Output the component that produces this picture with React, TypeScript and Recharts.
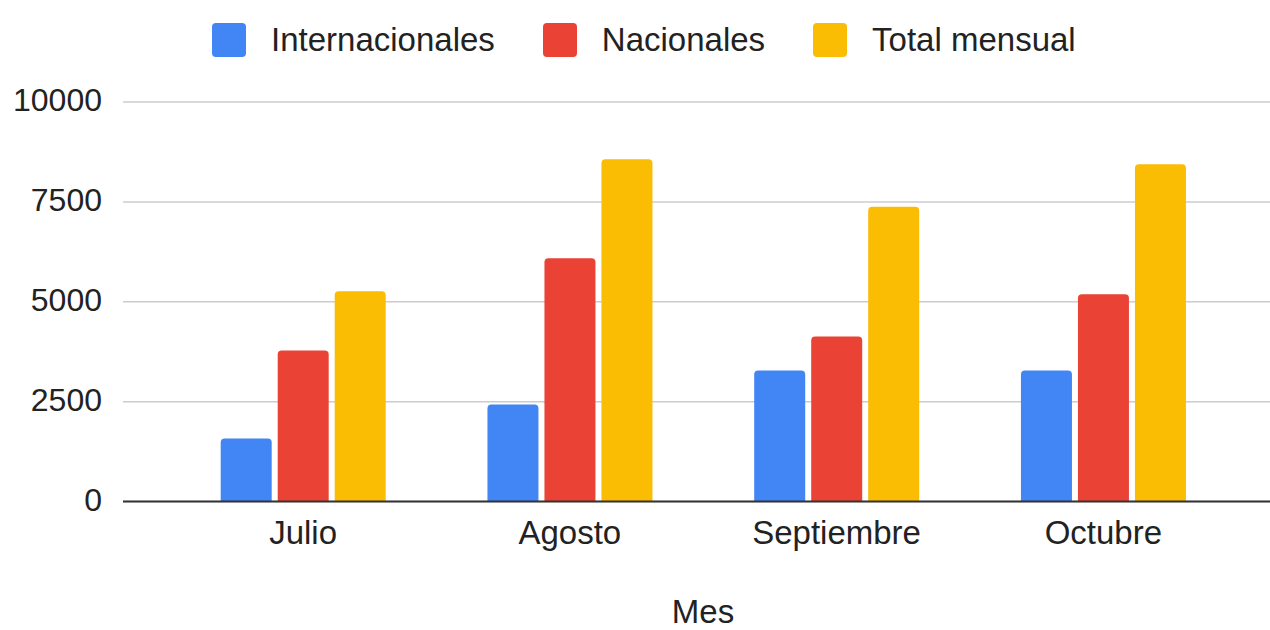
import { BarChart, Bar, XAxis, YAxis, CartesianGrid, Legend } from 'recharts'

const months = ['Julio', 'Agosto', 'Septiembre', 'Octubre']
const internacionales = [1580, 2430, 3280, 3280]
const nacionales = [3780, 6090, 4130, 5190]
const totalMensual = [5260, 8570, 7380, 8440]
const yTicks = [0, 2500, 5000, 7500, 10000]

const series = [
  { key: 'internacionales', name: 'Internacionales', color: '#4285F4' },
  { key: 'nacionales', name: 'Nacionales', color: '#EA4335' },
  { key: 'total', name: 'Total mensual', color: '#FBBC04' },
]

const data = months.map((mes, i) => ({
  mes,
  internacionales: internacionales[i],
  nacionales: nacionales[i],
  total: totalMensual[i],
}))

const FONT = '"Liberation Sans", Arial, Helvetica, sans-serif'

function LegendContent() {
  return (
    <div
      style={{
        height: 80,
        display: 'flex',
        alignItems: 'center',
        paddingLeft: 212,
        fontFamily: FONT,
        fontSize: 33,
        color: '#222',
      }}
    >
      {series.map((s) => (
        <div key={s.key} style={{ display: 'flex', alignItems: 'center', marginRight: 48 }}>
          <span
            style={{
              width: 34,
              height: 34,
              borderRadius: 4,
              background: s.color,
              marginRight: 25,
              display: 'inline-block',
            }}
          />
          <span>{s.name}</span>
        </div>
      ))}
    </div>
  )
}

export default function App() {
  return (
    <div style={{ width: 1270, height: 630, background: '#fff' }}>
      <style>{'body{margin:0}'}</style>
      <BarChart
        width={1270}
        height={630}
        data={data}
        margin={{ top: 22, right: 0, bottom: 0, left: 0 }}
        barSize={51}
        barGap={6}
      >
        <Legend
          verticalAlign="top"
          align="left"
          content={<LegendContent />}
          wrapperStyle={{ top: 0, left: 0, width: 1270, height: 80 }}
        />
        <CartesianGrid vertical={false} stroke="#cccccc" strokeWidth={1.5} />
        <XAxis
          dataKey="mes"
          height={128.5}
          padding={{ left: 46.7, right: 33.3 }}
          axisLine={{ stroke: '#333', strokeWidth: 2 }}
          tickLine={false}
          tickSize={0}
          tickMargin={19}
          tick={{ fill: '#222', fontSize: 33, fontFamily: FONT }}
          label={{
            value: 'Mes',
            position: 'insideBottom',
            offset: 7,
            dx: 6.5,
            fill: '#222',
            fontSize: 33,
            fontFamily: FONT,
          }}
        />
        <YAxis
          width={123}
          domain={[0, 10000]}
          ticks={yTicks}
          axisLine={false}
          tickLine={false}
          tickSize={0}
          tickMargin={21}
          tick={{ fill: '#222', fontSize: 32, fontFamily: FONT, dy: -2 }}
        />
        {series.map((s) => (
          <Bar
            key={s.key}
            dataKey={s.key}
            name={s.name}
            fill={s.color}
            radius={[4, 4, 0, 0]}
            isAnimationActive={false}
          />
        ))}
      </BarChart>
    </div>
  )
}
